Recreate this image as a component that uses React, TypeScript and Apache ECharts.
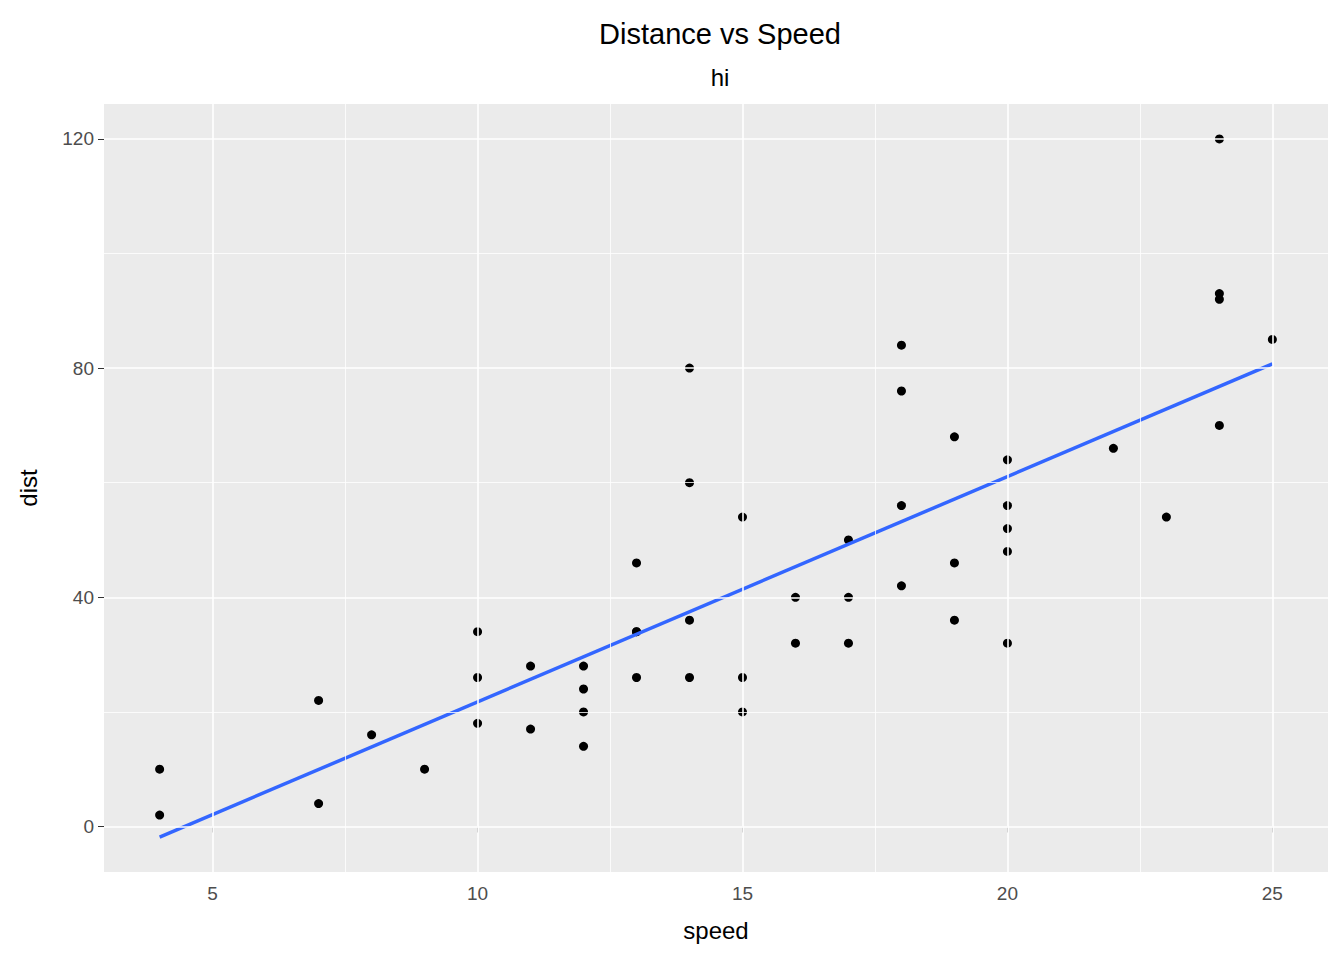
import React, { useEffect, useRef } from 'react';
import * as echarts from 'echarts';

const speed = [4, 4, 7, 7, 8, 9, 10, 10, 10, 11, 11, 12, 12, 12, 12, 13, 13, 13, 13, 14, 14, 14, 14, 15, 15, 15, 16, 16, 17, 17, 17, 18, 18, 18, 18, 19, 19, 19, 20, 20, 20, 20, 20, 22, 23, 24, 24, 24, 24, 25];
const dist = [2, 10, 4, 22, 16, 10, 18, 26, 34, 17, 28, 14, 20, 24, 28, 26, 34, 34, 46, 26, 36, 60, 80, 20, 26, 54, 32, 40, 32, 40, 50, 42, 56, 76, 84, 36, 46, 68, 32, 48, 52, 56, 64, 66, 54, 70, 92, 93, 120, 85];
const fitLine = [[4, -1.849], [25, 80.73]];
const xMajor = [5, 10, 15, 20, 25];
const xMinor = [7.5, 12.5, 17.5, 22.5];
const yMajor = [0, 40, 80, 120];
const yMinor = [20, 60, 100];

const App: React.FC = () => {
  const ref = useRef<HTMLDivElement | null>(null);

  useEffect(() => {
    if (!ref.current) return;
    const chart = echarts.init(ref.current, undefined, { renderer: 'svg' });
    const font = 'Liberation Sans, Arial, sans-serif';
    const gridLine = (v: number, axis: 'xAxis' | 'yAxis', w: number) => ({
      [axis]: v,
      lineStyle: { color: '#FFFFFF', width: w, type: 'solid' },
    });
    chart.setOption({
      animation: false,
      title: [
        { text: 'Distance vs Speed', left: 707, top: 6, textAlign: 'center',
          textStyle: { fontFamily: font, fontSize: 29, fontWeight: 'normal', color: '#000' } },
        { text: 'hi', left: 707, top: 52, textAlign: 'center',
          textStyle: { fontFamily: font, fontSize: 24, fontWeight: 'normal', color: '#000' } },
      ],
      grid: { left: 94, right: 8, top: 96, bottom: 80, show: true, backgroundColor: '#EBEBEB', borderWidth: 0 },
      xAxis: {
        type: 'value', min: 2.95, max: 26.05,
        name: 'speed', nameLocation: 'middle', nameGap: 46,
        nameTextStyle: { fontFamily: font, fontSize: 24, color: '#000' },
        axisLine: { show: false },
        axisTick: { show: true, length: 6, customValues: xMajor, lineStyle: { color: '#333' } },
        axisLabel: { fontFamily: font, fontSize: 19, color: '#4D4D4D', margin: 12, customValues: xMajor },
        splitLine: { show: false },
      },
      yAxis: {
        type: 'value', min: -7.94, max: 126.09,
        name: 'dist', nameLocation: 'middle', nameGap: 64, nameRotate: 90,
        nameTextStyle: { fontFamily: font, fontSize: 24, color: '#000' },
        axisLine: { show: false },
        axisTick: { show: true, length: 6, customValues: yMajor, lineStyle: { color: '#333' } },
        axisLabel: { fontFamily: font, fontSize: 19, color: '#4D4D4D', margin: 10, customValues: yMajor },
        splitLine: { show: false },
      },
      series: [
        {
          type: 'line', data: [], z: 1, silent: true,
          markLine: {
            symbol: 'none', silent: true, label: { show: false },
            data: [
              ...xMinor.map((v) => gridLine(v, 'xAxis', 0.8)),
              ...yMinor.map((v) => gridLine(v, 'yAxis', 0.8)),
              ...xMajor.map((v) => gridLine(v, 'xAxis', 1.6)),
              ...yMajor.map((v) => gridLine(v, 'yAxis', 1.6)),
            ],
          },
        },
        {
          type: 'scatter', z: 3, symbolSize: 9,
          itemStyle: { color: '#000', opacity: 1 },
          data: speed.map((s, i) => [s, dist[i]]),
        },
        {
          type: 'line', z: 4, showSymbol: false, data: fitLine,
          lineStyle: { color: '#3366FF', width: 3.5 },
        },
      ],
    });
    return () => chart.dispose();
  }, []);

  return <div ref={ref} style={{ width: 1328, height: 944 }} />;
};

export default App;
